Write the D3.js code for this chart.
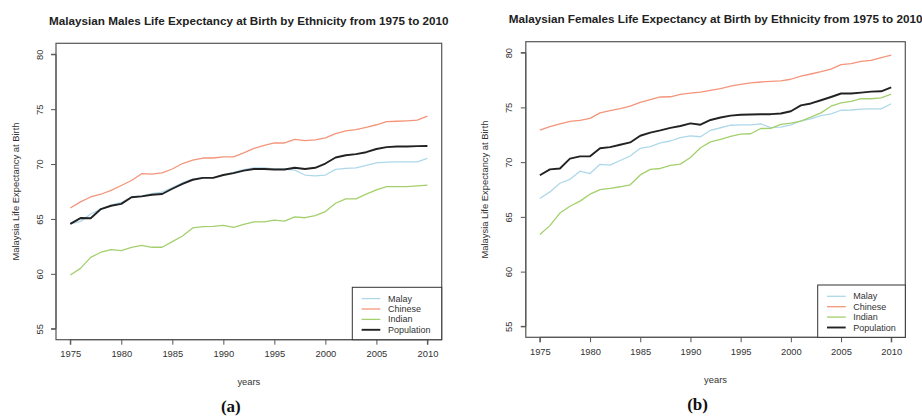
<!DOCTYPE html>
<html>
<head>
<meta charset="utf-8">
<script src="https://cdn.jsdelivr.net/npm/d3@7"></script>
<style>
  html, body { margin: 0; padding: 0; background: #fff; }
  svg { display: block; font-family: "Liberation Sans", Arial, sans-serif; }
</style>
</head>
<body>
<svg id="chart" width="922" height="417"></svg>
<script>
// ---- data ----
const years = d3.range(1975, 2011);
const xTicks = [1975, 1980, 1985, 1990, 1995, 2000, 2005, 2010];
const yTicks = [55, 60, 65, 70, 75, 80];
const seriesNames = ["Malay", "Chinese", "Indian", "Population"];

const maleMalay = [64.55, 64.78, 65.45, 65.9, 66.25, 66.5, 67.0, 67.1, 67.3, 67.45, 67.85, 68.3, 68.62, 68.76, 68.76, 69.02, 69.25, 69.5, 69.65, 69.66, 69.55, 69.55, 69.45, 69.0, 68.93, 69.0, 69.52, 69.6, 69.65, 69.87, 70.1, 70.18, 70.2, 70.2, 70.2, 70.52];
const maleChinese = [66.0, 66.55, 67.0, 67.25, 67.6, 68.05, 68.5, 69.12, 69.08, 69.2, 69.55, 70.05, 70.35, 70.55, 70.55, 70.65, 70.66, 71.02, 71.42, 71.7, 71.92, 71.92, 72.25, 72.14, 72.2, 72.38, 72.78, 73.02, 73.14, 73.35, 73.58, 73.86, 73.9, 73.94, 74.0, 74.37];
const maleIndian = [59.9, 60.5, 61.5, 61.97, 62.2, 62.12, 62.4, 62.6, 62.42, 62.42, 62.94, 63.45, 64.18, 64.3, 64.33, 64.42, 64.24, 64.5, 64.74, 64.74, 64.9, 64.81, 65.19, 65.11, 65.3, 65.67, 66.43, 66.83, 66.83, 67.26, 67.64, 67.94, 67.94, 67.94, 68.02, 68.08];
const malePopulation = [64.55, 65.08, 65.06, 65.9, 66.2, 66.37, 66.98, 67.06, 67.2, 67.27, 67.75, 68.2, 68.57, 68.74, 68.74, 69.0, 69.17, 69.4, 69.55, 69.55, 69.5, 69.5, 69.66, 69.55, 69.66, 70.05, 70.6, 70.8, 70.9, 71.08, 71.37, 71.54, 71.6, 71.6, 71.63, 71.65];

const femaleMalay = [66.68, 67.28, 68.07, 68.43, 69.17, 68.96, 69.8, 69.72, 70.15, 70.56, 71.26, 71.41, 71.75, 71.93, 72.23, 72.4, 72.32, 72.91, 73.14, 73.37, 73.41, 73.41, 73.49, 73.16, 73.2, 73.4, 73.77, 73.95, 74.25, 74.4, 74.74, 74.76, 74.85, 74.86, 74.86, 75.33];
const femaleChinese = [72.93, 73.25, 73.5, 73.72, 73.82, 74.0, 74.5, 74.7, 74.89, 75.11, 75.45, 75.7, 75.95, 75.97, 76.18, 76.3, 76.4, 76.56, 76.72, 76.94, 77.1, 77.24, 77.32, 77.37, 77.43, 77.57, 77.86, 78.05, 78.26, 78.5, 78.9, 79.0, 79.2, 79.29, 79.54, 79.78];
const femaleIndian = [63.4, 64.2, 65.35, 65.97, 66.44, 67.07, 67.49, 67.6, 67.75, 67.93, 68.83, 69.34, 69.42, 69.71, 69.82, 70.42, 71.31, 71.85, 72.08, 72.36, 72.55, 72.59, 73.07, 73.08, 73.44, 73.57, 73.75, 74.11, 74.5, 75.11, 75.42, 75.54, 75.79, 75.79, 75.86, 76.22];
const femalePopulation = [68.8, 69.34, 69.42, 70.32, 70.53, 70.53, 71.27, 71.37, 71.59, 71.8, 72.41, 72.7, 72.9, 73.13, 73.3, 73.54, 73.42, 73.85, 74.08, 74.25, 74.33, 74.35, 74.37, 74.38, 74.44, 74.65, 75.18, 75.36, 75.65, 75.95, 76.27, 76.27, 76.35, 76.44, 76.47, 76.82];

const titles = [
  "Malaysian Males Life Expectancy at Birth by Ethnicity from 1975 to 2010",
  "Malaysian Females Life Expectancy at Birth by Ethnicity from 1975 to 2010"
];
const xLabel = "years";
const yLabel = "Malaysia Life Expectancy at Birth";
const panelTags = ["(a)", "(b)"];

// ---- styles ----
const colors = { Malay: "#aed8ea", Chinese: "#f4957b", Indian: "#a3d06c", Population: "#222222" };
const widths = { Malay: 1.3, Chinese: 1.3, Indian: 1.3, Population: 1.9 };

const panels = [
  { left: 56, right: 441.7, top: 43.3, bottom: 339.7, title: titles[0], tag: panelTags[0],
    series: { Malay: maleMalay, Chinese: maleChinese, Indian: maleIndian, Population: malePopulation },
    legX: 352.3, legY: 287.3 },
  { left: 525.8, right: 905.3, top: 41.7, bottom: 337.3, title: titles[1], tag: panelTags[1],
    series: { Malay: femaleMalay, Chinese: femaleChinese, Indian: femaleIndian, Population: femalePopulation },
    legX: 817.7, legY: 285 }
];

const svg = d3.select("#chart");
const axisColor = "#555";
const textColor = "#333";

panels.forEach(p => {
  const x = d3.scaleLinear().domain([1973.6, 2011.4]).range([p.left, p.right]);
  const y = d3.scaleLinear().domain([54, 81]).range([p.bottom, p.top]);
  const g = svg.append("g");
  const cx = (p.left + p.right) / 2;
  const cy = (p.top + p.bottom) / 2;

  // title
  g.append("text").attr("x", cx).attr("y", p.top - 23).attr("text-anchor", "middle")
    .attr("dominant-baseline", "central")
    .attr("font-size", "11.7px").attr("font-weight", "bold").attr("fill", "#222")
    .text(p.title);

  // x axis
  const xAxis = d3.axisBottom(x).tickValues(xTicks).tickFormat(d3.format("d")).tickSize(5).tickPadding(6);
  const xa = g.append("g").attr("transform", `translate(0,${p.bottom})`).call(xAxis);
  xa.select(".domain").attr("stroke", axisColor).attr("d", `M${x(1975)},5V0H${x(2010)}V5`);
  xa.selectAll(".tick line").attr("stroke", axisColor);
  xa.selectAll("text").attr("font-size", "9.4px").attr("fill", textColor)
    .attr("font-family", "Liberation Sans, Arial, sans-serif");

  // y axis
  const yAxis = d3.axisLeft(y).tickValues(yTicks).tickSize(5).tickPadding(6);
  const ya = g.append("g").attr("transform", `translate(${p.left},0)`).call(yAxis);
  ya.select(".domain").attr("stroke", axisColor).attr("d", `M-5,${y(55)}H0V${y(80)}H-5`);
  ya.selectAll(".tick line").attr("stroke", axisColor);
  ya.selectAll(".tick text")
    .attr("font-size", "9.4px").attr("fill", textColor)
    .attr("font-family", "Liberation Sans, Arial, sans-serif")
    .attr("x", null).attr("dy", null)
    .attr("text-anchor", "middle")
    .attr("dominant-baseline", "central")
    .attr("transform", "translate(-17,0) rotate(-90)");

  // axis titles
  g.append("text").attr("x", cx).attr("y", p.bottom + 42).attr("text-anchor", "middle")
    .attr("dominant-baseline", "central")
    .attr("font-size", "9.4px").attr("fill", textColor).text(xLabel);
  g.append("text").attr("transform", `translate(${p.left - 41},${cy}) rotate(-90)`)
    .attr("text-anchor", "middle").attr("dominant-baseline", "central")
    .attr("font-size", "9.4px").attr("fill", textColor).text(yLabel);

  // panel tag
  g.append("text").attr("x", cx - 18).attr("y", p.bottom + 67).attr("text-anchor", "middle")
    .attr("dominant-baseline", "central")
    .attr("font-family", "Liberation Serif, serif").attr("font-size", "17px").attr("font-weight", "bold")
    .attr("fill", "#111").text(p.tag);

  // lines
  const line = d3.line().x((d, i) => x(years[i])).y(d => y(d));
  seriesNames.forEach(name => {
    g.append("path").datum(p.series[name]).attr("d", line)
      .attr("fill", "none").attr("stroke", colors[name]).attr("stroke-width", widths[name])
      .attr("stroke-linejoin", "round");
  });

  // plot box
  g.append("rect").attr("x", p.left).attr("y", p.top)
    .attr("width", p.right - p.left).attr("height", p.bottom - p.top)
    .attr("fill", "none").attr("stroke", axisColor).attr("stroke-width", 1.2);

  // legend
  const lg = g.append("g");
  lg.append("rect").attr("x", p.legX).attr("y", p.legY)
    .attr("width", p.right - p.legX).attr("height", p.bottom - p.legY)
    .attr("fill", "#fff").attr("stroke", "#333").attr("stroke-width", 1);
  seriesNames.forEach((name, i) => {
    const ry = p.legY + 11.3 + i * 10.4;
    lg.append("line").attr("x1", p.legX + 9.3).attr("x2", p.legX + 28).attr("y1", ry).attr("y2", ry)
      .attr("stroke", colors[name]).attr("stroke-width", widths[name]);
    lg.append("text").attr("x", p.legX + 35.6).attr("y", ry).attr("dominant-baseline", "central")
      .attr("font-size", "9px").attr("fill", textColor).text(name);
  });
});
</script>
</body>
</html>
